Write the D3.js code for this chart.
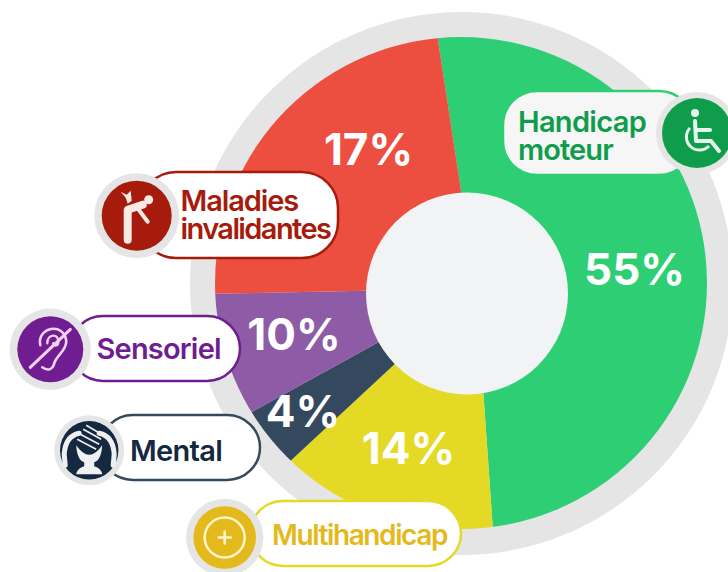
<!DOCTYPE html>
<html>
<head>
<meta charset="utf-8">
<script src="https://cdn.jsdelivr.net/npm/d3@7"></script>
<style>
html, body { margin: 0; padding: 0; background: #fff; }
svg { display: block; }
text { font-family: Inter, "Liberation Sans", sans-serif; }
</style>
</head>
<body>
<div id="chart"></div>
<script>
var categories = ["Handicap moteur", "Multihandicap", "Mental", "Sensoriel", "Maladies invalidantes"];
var percentLabels = [55, 14, 4, 10, 17];
// the wedges are not drawn in proportion to their labels, so these are read off the picture
var drawnShares = [51.3, 14.2, 3.9, 7.7, 22.9];
var sliceColors = ["#2ecf74", "#e4d925", "#34495e", "#8e5ba6", "#ec4f40"];
var darkColors = ["#0f9d4c", "#e3b91c", "#14293f", "#6f1d91", "#a61b0b"];
var borderColors = ["#2ecf74", "#e4d925", "#34495e", "#6f1d91", "#a61b0b"];
var iconInk = ["#e6f7ec", "#fff4cf", "#eef0f2", "#f3d3f2", "#fbe9e6"];
var labelLines = [["Handicap", "moteur"], ["Multihandicap"], ["Mental"], ["Sensoriel"], ["Maladies", "invalidantes"]];
var labelTracking = [[-0.7, -0.9], [-1.4], [-0.7], [-0.8], [-1.1, -1.6]];
var labelSizes = [29, 28, 29, 29, 29];

var width = 728, height = 572;
var svg = d3.select("#chart").append("svg").attr("width", width).attr("height", height);

svg.append("circle").attr("cx", 461.5).attr("cy", 283.5).attr("r", 271.5).attr("fill", "#e5e5e5");

svg.append("clipPath").attr("id", "disc").append("circle")
    .attr("cx", 461).attr("cy", 283).attr("r", 246);

var pie = d3.pie().sort(null).startAngle(-8.7 * Math.PI / 180).endAngle(351.3 * Math.PI / 180);
var arc = d3.arc().innerRadius(0).outerRadius(340);

svg.append("g").attr("clip-path", "url(#disc)")
  .append("g").attr("transform", "translate(476,288.5)")
  .selectAll("path").data(pie(drawnShares)).enter().append("path")
    .attr("d", arc)
    .attr("fill", function(d, i) { return sliceColors[i]; });

svg.append("circle").attr("cx", 467).attr("cy", 293.5).attr("r", 101).attr("fill", "#f2f3f5");

var pctPos = [[634.5, 285], [408.5, 463.5], [303, 426.5], [294, 349.5], [368.5, 164.5]];
svg.selectAll(".pct").data(percentLabels).enter().append("text")
    .attr("class", "pct")
    .attr("x", function(d, i) { return pctPos[i][0]; })
    .attr("y", function(d, i) { return pctPos[i][1]; })
    .attr("text-anchor", "middle")
    .attr("fill", "#fff")
    .style("font-size", "44px")
    .style("font-weight", 700)
    .text(function(d) { return d + "%"; });

// pill box, icon centre and radius, text start and first text baseline shift
var pills = [
  { x: 503, y: 91, w: 190, h: 84, rx: 34, cx: 697, cy: 133, r: 35, ring: 41, fill: "#f6f6f6", tx: 518, ty: 2.5 },
  { x: 250, y: 501, w: 211, h: 65, rx: 33, cx: 224.7, cy: 537.5, r: 31.3, ring: 38.7, fill: "#fff", tx: 272, ty: 1 },
  { x: 100, y: 415, w: 160, h: 65, rx: 33, cx: 89.2, cy: 450.3, r: 29.2, ring: 35, fill: "#fff", tx: 130, ty: 3 },
  { x: 70, y: 316, w: 170, h: 65, rx: 33, cx: 50.3, cy: 349.3, r: 33, ring: 40.7, fill: "#fff", tx: 96.5, ty: 0 },
  { x: 140, y: 172, w: 198, h: 86, rx: 36, cx: 136.7, cy: 215.7, r: 35, ring: 42.5, fill: "#fff", tx: 180.5, ty: -0.5 }
];

var group = svg.selectAll(".tag").data(pills).enter().append("g").attr("class", "tag");
group.append("rect")
    .attr("x", function(d) { return d.x; }).attr("y", function(d) { return d.y; })
    .attr("width", function(d) { return d.w; }).attr("height", function(d) { return d.h; })
    .attr("rx", function(d) { return d.rx; })
    .attr("fill", function(d) { return d.fill; })
    .attr("stroke", function(d, i) { return borderColors[i]; })
    .attr("stroke-width", 2.5);
group.append("circle")
    .attr("cx", function(d) { return d.cx; }).attr("cy", function(d) { return d.cy; })
    .attr("r", function(d) { return d.ring; }).attr("fill", "#e5e5e5");
group.append("circle")
    .attr("cx", function(d) { return d.cx; }).attr("cy", function(d) { return d.cy; })
    .attr("r", function(d) { return d.r; })
    .attr("fill", function(d, i) { return darkColors[i]; });
group.each(function(d, i) {
    var lines = labelLines[i];
    var t = d3.select(this).append("text")
        .attr("fill", darkColors[i])
        .style("font-size", labelSizes[i] + "px")
        .style("font-weight", 600);
    lines.forEach(function(line, j) {
        t.append("tspan")
            .attr("x", d.tx)
            .attr("y", d.y + d.h / 2 + d.ty + (j - (lines.length - 1) / 2) * 28.5)
            .attr("dy", "0.36em")
            .style("letter-spacing", labelTracking[i][j] + "px")
            .text(line);
    });
});

// small white pictograms, drawn relative to each icon centre
var iconDraw = [
  function(g, c) { // wheelchair
    g.append("circle").attr("cx", -2).attr("cy", -20).attr("r", 4).attr("fill", c);
    g.append("path").attr("d", "M-2,-12 L-1,8 L14,8 L22,18 M-1,-3 L13,-3").attr("fill", "none")
        .attr("stroke", c).attr("stroke-width", 4).attr("stroke-linecap", "round").attr("stroke-linejoin", "round");
    g.append("path").attr("d", "M-7,-5 A13,13 0 1,0 12,13").attr("fill", "none")
        .attr("stroke", c).attr("stroke-width", 3);
  },
  function(g, c) { // plus in a ring
    g.append("circle").attr("r", 20).attr("fill", "none").attr("stroke", c).attr("stroke-width", 2.5);
    g.append("path").attr("d", "M-6,0 H6 M0,-6 V6").attr("fill", "none").attr("stroke", c)
        .attr("stroke-width", 2.5).attr("stroke-linecap", "round");
  },
  function(g, c) { // head held in both hands
    g.append("path").attr("d", "M-13,-5 Q0,14 13,-5 Q12,10 5,12 L5,16 Q12,18 13,24 L-13,24 Q-12,18 -5,16 L-5,12 Q-12,10 -13,-5 Z").attr("fill", c);
    g.append("path").attr("d", "M-6,-21 L12,-11 M-9,-16 L10,-6 M-12,-11 L7,-1 M-3,-25 L14,-15").attr("stroke", c)
        .attr("stroke-width", 1.6).attr("fill", "none");
    g.append("path").attr("d", "M-10,-17 Q-24,-14 -25,4 L-24,15 M10,-17 Q24,-14 25,4 L24,15").attr("stroke", c)
        .attr("stroke-width", 5).attr("fill", "none").attr("stroke-linecap", "round");
  },
  function(g, c) { // crossed out ear
    g.append("path").attr("d", "M-20,18 L20,-20").attr("stroke", c).attr("stroke-width", 3).attr("stroke-linecap", "round");
    g.append("path").attr("d", "M-10,-4 C-14,-22 14,-28 16,-8 C16,2 6,6 4,14 C2,22 -4,21 -8,18").attr("fill", "none")
        .attr("stroke", c).attr("stroke-width", 2.6).attr("stroke-linecap", "round");
    g.append("path").attr("d", "M-3,-6 C-3,-16 9,-16 8,-7 C8,-3 3,-3 3,-6").attr("fill", "none")
        .attr("stroke", c).attr("stroke-width", 2.4).attr("stroke-linecap", "round");
  },
  function(g, c) { // bent figure with a flash on the back
    g.append("circle").attr("cx", 12).attr("cy", -16).attr("r", 4.5).attr("fill", c);
    g.append("path").attr("d", "M-9,24 L-9,-6 L6,-11").attr("fill", "none").attr("stroke", c)
        .attr("stroke-width", 8).attr("stroke-linecap", "round").attr("stroke-linejoin", "round");
    g.append("path").attr("d", "M2,-6 L11,6").attr("fill", "none").attr("stroke", c)
        .attr("stroke-width", 4).attr("stroke-linecap", "round");
    g.append("path").attr("d", "M-16,-24 L-10,-21 L-6,-25 L-5,-15 L-9,-12 L-11,-18 Z").attr("fill", c);
  }
];
group.each(function(d, i) {
    var g = d3.select(this).append("g").attr("transform", "translate(" + d.cx + "," + d.cy + ")");
    iconDraw[i](g, iconInk[i]);
});
</script>
</body>
</html>
